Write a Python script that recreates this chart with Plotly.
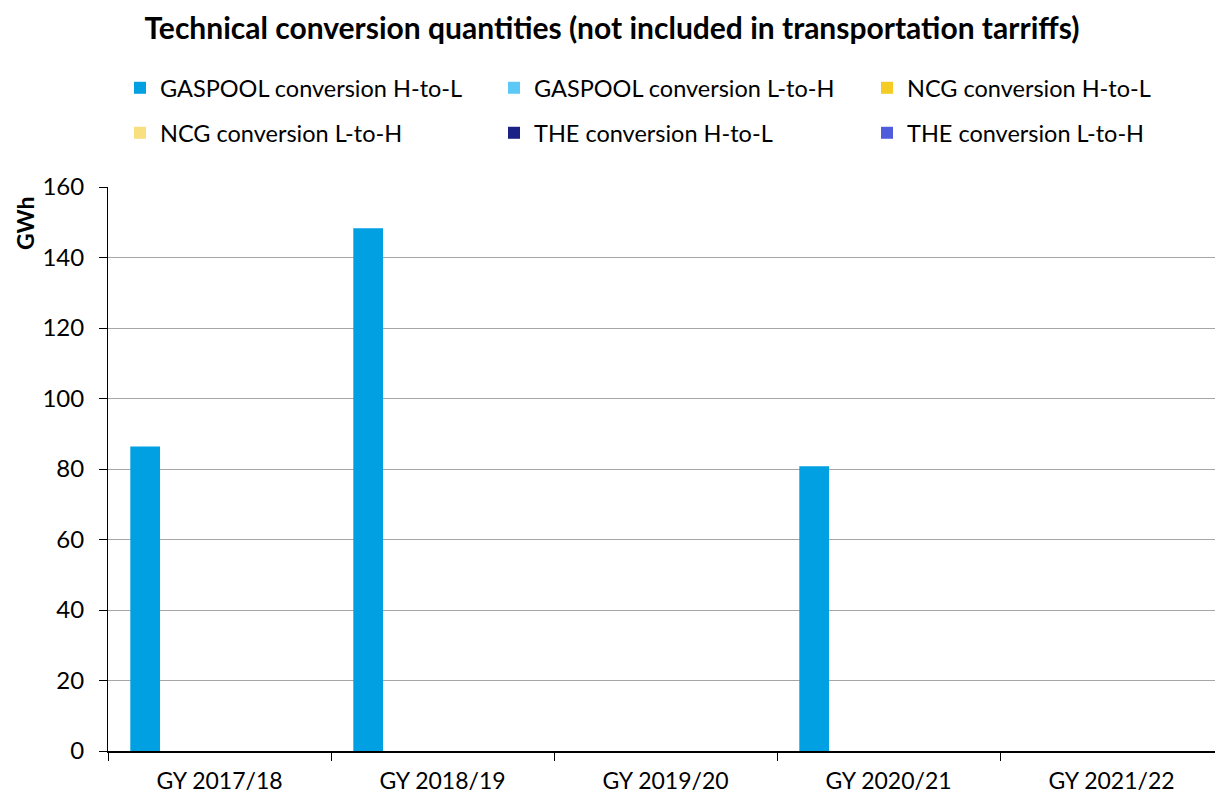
import plotly.graph_objects as go

categories = ["GY 2017/18", "GY 2018/19", "GY 2019/20", "GY 2020/21", "GY 2021/22"]
series_names = [
    "GASPOOL conversion H-to-L",
    "GASPOOL conversion L-to-H",
    "NCG conversion H-to-L",
    "NCG conversion L-to-H",
    "THE conversion H-to-L",
    "THE conversion L-to-H",
]
gaspool_h_to_l = [86.4, 148.3, 0, 80.8, 0]
gaspool_l_to_h = [0, 0, 0, 0, 0]
ncg_h_to_l = [0, 0, 0, 0, 0]
ncg_l_to_h = [0, 0, 0, 0, 0]
the_h_to_l = [0, 0, 0, 0, 0]
the_l_to_h = [0, 0, 0, 0, 0]
series_values = [gaspool_h_to_l, gaspool_l_to_h, ncg_h_to_l, ncg_l_to_h, the_h_to_l, the_l_to_h]
colors = ["#00a0e3", "#5bc8f5", "#f4cc23", "#f8e081", "#1b2185", "#4f5ddc"]
y_ticks = [0, 20, 40, 60, 80, 100, 120, 140, 160]

# page body has an 8px margin; the figure is sized to fit the 1223x798 window
W, H = 1215, 790
OFF = 8
FONT = "Lato"

# plot area in figure pixels
PL, PT, PB = 100, 179, 743
PW = W - PL
PH = PB - PT

# legend slot positions (page pixels)
leg_x = [120, 494, 867, 120, 494, 867]
leg_y = [88, 88, 88, 133, 133, 133]

fig = go.Figure()
legend_layouts = {}
for i, (name, vals, col) in enumerate(zip(series_names, series_values, colors)):
    key = "legend" if i == 0 else f"legend{i + 1}"
    fig.add_trace(go.Bar(
        x=categories, y=vals, name=name,
        marker=dict(color=col, line=dict(width=0)),
        legend=key,
    ))
    legend_layouts[key] = dict(
        orientation="h", xref="container", yref="container",
        x=(leg_x[i] - OFF) / W, xanchor="left",
        y=1 - (leg_y[i] - OFF) / H, yanchor="middle",
        font=dict(family=FONT, size=23.5, color="#000"),
        bgcolor="rgba(0,0,0,0)", borderwidth=0,
    )

fig.update_layout(
    width=W, height=H,
    margin=dict(l=PL, r=0, t=PT, b=H - PB, autoexpand=False),
    paper_bgcolor="white", plot_bgcolor="white",
    barmode="group", bargap=0.2, bargroupgap=0,
    font=dict(family=FONT, size=23, color="#000"),
    title=dict(
        text="<b>Technical conversion quantities (not included in transportation tarriffs)</b>",
        x=(612 - OFF) / W, xanchor="center", xref="container",
        y=1 - (28 - OFF) / H, yanchor="middle", yref="container",
        font=dict(family=FONT, size=30, color="#000"),
    ),
    showlegend=True,
    **legend_layouts,
)

fig.add_annotation(
    text="<b>GWh</b>", textangle=-90, showarrow=False,
    xref="paper", yref="paper",
    x=((10 - OFF) - PL) / PW, y=(PB - (223 - OFF)) / PH,
    xanchor="left", yanchor="middle", borderpad=0,
    font=dict(family=FONT, size=23, color="#000"),
)

fig.update_xaxes(
    type="category", categoryorder="array", categoryarray=categories,
    showline=True, linecolor="#000", linewidth=1.5,
    ticks="outside", tickson="boundaries", ticklen=8, tickcolor="#000", tickwidth=1,
    showgrid=False, tickfont=dict(family=FONT, size=23, color="#000"),
    ticklabelstandoff=9,
)
fig.update_yaxes(
    range=[0, 160], tickvals=y_ticks,
    showline=True, linecolor="#000", linewidth=1,
    ticks="outside", ticklen=8, tickcolor="#000",
    showgrid=True, gridcolor="#a6a6a6", gridwidth=1,
    zeroline=False,
    tickfont=dict(family=FONT, size=24, color="#000"),
    ticklabelstandoff=10,
)

fig.write_html("out.html")
